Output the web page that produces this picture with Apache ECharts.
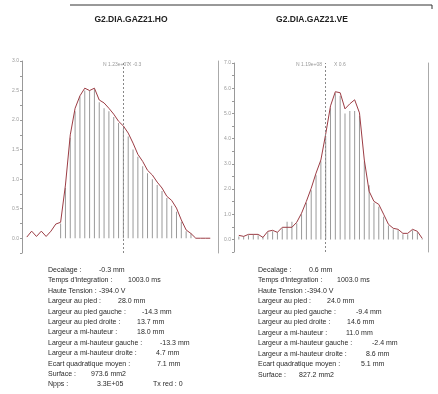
<!DOCTYPE html>
<html>
<head>
<meta charset="utf-8">
<script src="https://cdn.jsdelivr.net/npm/echarts@6/dist/echarts.min.js"></script>
<style>
  html, body { margin: 0; padding: 0; background: #fff; }
  #chart { width: 438px; height: 394px; }
</style>
</head>
<body>
<div id="chart"></div>
<script>
// profil horizontal (HO) - position en mm, intensite
var hoMm = [-20,-19,-18,-17,-16,-15,-14,-13,-12,-11,-10,-9,-8,-7,-6,-5,-4,-3,-2,-1,0,1,2,3,4,5,6,7,8,9,10,11,12,13,14,15,16,17,18];
var hoCurve = [0.02,0.12,0.03,0.12,0.03,0.12,0.24,0.27,0.90,1.75,2.20,2.41,2.54,2.50,2.54,2.34,2.29,2.20,2.10,1.98,1.90,1.78,1.61,1.42,1.30,1.15,1.07,0.95,0.85,0.71,0.64,0.51,0.31,0.14,0.08,0,0,0,0];
var hoBarMm = [-13,-12,-11,-10,-9,-8,-7,-6,-5,-4,-3,-2,-1,0,1,2,3,4,5,6,7,8,9,10,11,12,13,14];
var hoBars = [0.25,0.85,1.70,2.15,2.40,2.50,2.50,2.52,2.30,2.20,2.15,2.05,1.95,1.85,1.72,1.50,1.38,1.22,1.10,1.00,0.90,0.80,0.68,0.55,0.45,0.28,0.12,0.08];

// profil vertical (VE)
var veMm = [-18,-17,-16,-15,-14,-13,-12,-11,-10,-9,-8,-7,-6,-5,-4,-3,-2,-1,0,1,2,3,4,5,6,7,8,9,10,11,12,13,14,15,16,17,18,19,20];
var veCurve = [0.16,0.12,0.20,0.20,0.20,0.08,0.32,0.36,0.28,0.48,0.48,0.48,0.68,1.04,1.51,2.03,2.63,3.15,4.18,5.30,5.86,5.82,5.18,5.38,5.54,5.02,3.15,1.91,1.51,1.39,1.00,0.60,0.44,0.40,0.24,0.24,0.40,0.32,0.04];
var veBars = [0.12,0.12,0.16,0.20,0.16,0.10,0.28,0.32,0.28,0.44,0.70,0.70,0.64,1.00,1.45,1.95,2.55,3.10,4.10,5.20,5.80,5.70,5.00,5.10,5.10,4.90,3.10,2.15,1.45,1.30,0.90,0.55,0.40,0.36,0.20,0.20,0.36,0.28,0.04];

var hoLabels = ['Decalage :', "Temps d'integration :", 'Haute Tension :', 'Largeur au pied :', 'Largeur au pied gauche :', 'Largeur au pied droite :', 'Largeur a mi-hauteur :', 'Largeur a mi-hauteur gauche :', 'Largeur a mi-hauteur droite :', 'Ecart quadratique moyen :', 'Surface :', 'Npps :'];
var hoValues = ['-0.3 mm', '1003.0 ms', '-394.0 V', '28.0 mm', '-14.3 mm', '13.7 mm', '18.0 mm', '-13.3 mm', '4.7 mm', '7.1 mm', '973.6 mm2', '3.3E+05'];
var veLabels = hoLabels.slice(0, 11);
var veValues = ['0.6 mm', '1003.0 ms', '-394.0 V', '24.0 mm', '-9.4 mm', '14.6 mm', '11.0 mm', '-2.4 mm', '8.6 mm', '5.1 mm', '827.2 mm2'];

function pairs(xs, ys) {
    return xs.map(function (x, i) { return [x, ys[i]]; });
}

var txtFont = '7px "Liberation Sans", Arial, sans-serif';
var graphics = [
    { type: 'line', shape: { x1: 70, y1: 5, x2: 432, y2: 5 }, style: { stroke: '#333', lineWidth: 1 } },
    { type: 'line', shape: { x1: 432, y1: 5, x2: 432, y2: 9 }, style: { stroke: '#333', lineWidth: 1 } },
    { type: 'text', x: 103, y: 65, style: { text: 'N 1.23e+07', font: '5px "Liberation Sans"', fill: '#999', verticalAlign: 'middle' } },
    { type: 'text', x: 128, y: 65, style: { text: 'X -0.3', font: '5px "Liberation Sans"', fill: '#999', verticalAlign: 'middle' } },
    { type: 'text', x: 296, y: 65, style: { text: 'N 1.19e+08', font: '5px "Liberation Sans"', fill: '#999', verticalAlign: 'middle' } },
    { type: 'text', x: 334, y: 65, style: { text: 'X 0.6', font: '5px "Liberation Sans"', fill: '#999', verticalAlign: 'middle' } }
];

// valeurs tabulees : position x de chaque valeur
var hoValX = [99, 128, 99, 118, 142, 137, 137, 160, 156, 157, 91, 97];
var veValX = [309, 337, 307, 327, 356, 347, 346, 372, 366, 361, 299];
hoLabels.forEach(function (t, i) {
    var y = 270 + i * 10.4;
    graphics.push({ type: 'text', x: 48, y: y, style: { text: t, font: txtFont, fill: '#2a2a2a', verticalAlign: 'middle' } });
    graphics.push({ type: 'text', x: hoValX[i], y: y, style: { text: hoValues[i], font: txtFont, fill: '#2a2a2a', verticalAlign: 'middle' } });
});
graphics.push({ type: 'text', x: 153, y: 270 + 11 * 10.4, style: { text: 'Tx red : 0', font: txtFont, fill: '#2a2a2a', verticalAlign: 'middle' } });
veLabels.forEach(function (t, i) {
    var y = 270 + i * 10.5;
    graphics.push({ type: 'text', x: 258, y: y, style: { text: t, font: txtFont, fill: '#2a2a2a', verticalAlign: 'middle' } });
    graphics.push({ type: 'text', x: veValX[i], y: y, style: { text: veValues[i], font: txtFont, fill: '#2a2a2a', verticalAlign: 'middle' } });
});

function yLabel(step) {
    return function (v) {
        var k = v / step;
        return (v >= 0 && Math.abs(k - Math.round(k)) < 1e-6) ? v.toFixed(1) : '';
    };
}
function leftAxis(gi, min, max, interval, step) {
    return {
        type: 'value', gridIndex: gi, position: 'left', min: min, max: max, interval: interval,
        axisLine: { show: true, onZero: false, lineStyle: { color: '#999', width: 1 } },
        axisTick: { show: true, length: 2, lineStyle: { color: '#999' } },
        axisLabel: { formatter: yLabel(step), fontSize: 5, color: '#999', margin: 3, fontFamily: 'Liberation Sans' },
        splitLine: { show: false }
    };
}
function borderAxis(gi) {
    return {
        type: 'value', gridIndex: gi, position: 'right',
        axisLine: { show: true, onZero: false, lineStyle: { color: '#aaa', width: 1 } },
        axisTick: { show: false }, axisLabel: { show: false }, splitLine: { show: false }
    };
}
var dashMark = {
    symbol: 'none', silent: true, label: { show: false },
    lineStyle: { type: [2, 2], color: '#888', width: 1 },
    data: [{ xAxis: 0 }]
};

var chart = echarts.init(document.getElementById('chart'));
chart.setOption({
    backgroundColor: '#fff',
    animation: false,
    title: [
        { text: 'G2.DIA.GAZ21.HO', left: 126, top: 10, textAlign: 'center',
          textStyle: { fontSize: 8.5, fontWeight: 'bold', color: '#222', fontFamily: 'Liberation Sans' } },
        { text: 'G2.DIA.GAZ21.VE', left: 307, top: 10, textAlign: 'center',
          textStyle: { fontSize: 8.5, fontWeight: 'bold', color: '#222', fontFamily: 'Liberation Sans' } }
    ],
    grid: [
        { left: 22, top: 61, width: 196, height: 192 },
        { left: 234, top: 63, width: 194, height: 189 }
    ],
    xAxis: [
        { type: 'value', gridIndex: 0, min: -21, max: 19.6, show: false },
        { type: 'value', gridIndex: 1, min: -19, max: 21.2, show: false }
    ],
    yAxis: [
        leftAxis(0, -0.25, 3, 0.25, 0.5),
        borderAxis(0),
        leftAxis(1, -0.5, 7, 0.5, 1),
        borderAxis(1)
    ],
    series: [
        { type: 'bar', xAxisIndex: 0, yAxisIndex: 0, barWidth: 1, data: pairs(hoBarMm, hoBars),
          itemStyle: { color: '#9a9a9a' }, markLine: dashMark },
        { type: 'line', xAxisIndex: 0, yAxisIndex: 0, data: pairs(hoMm, hoCurve), symbol: 'none',
          lineStyle: { color: '#9c3c44', width: 1 } },
        { type: 'bar', xAxisIndex: 1, yAxisIndex: 2, barWidth: 1, data: pairs(veMm, veBars),
          itemStyle: { color: '#9a9a9a' }, markLine: dashMark },
        { type: 'line', xAxisIndex: 1, yAxisIndex: 2, data: pairs(veMm, veCurve), symbol: 'none',
          lineStyle: { color: '#9c3c44', width: 1 } }
    ],
    graphic: graphics
});
</script>
</body>
</html>
